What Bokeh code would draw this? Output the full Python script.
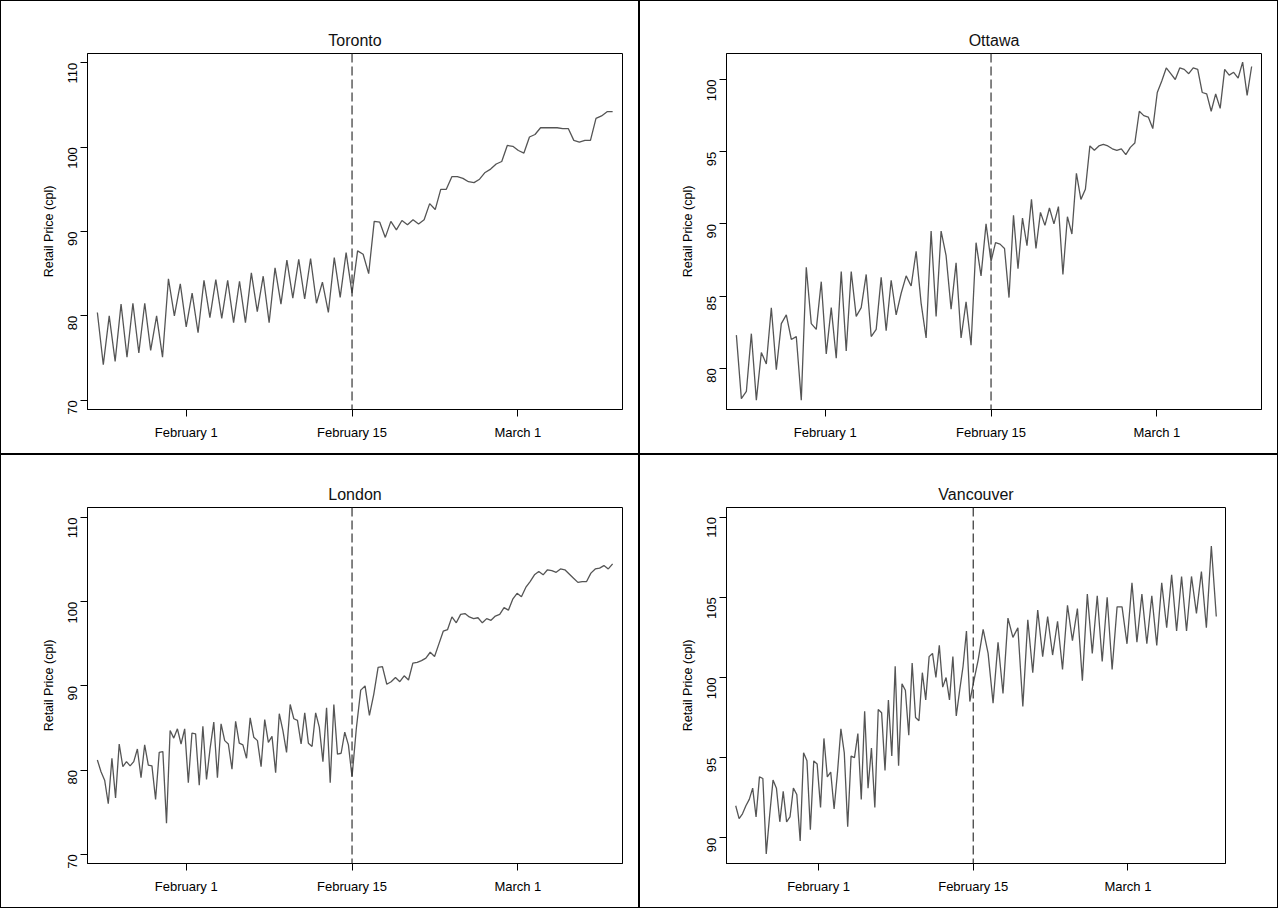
import math
import pandas as pd
from bokeh.plotting import figure
from bokeh.layouts import column, row
from bokeh.models import FixedTicker, Span
from bokeh.embed import file_html
from bokeh.resources import INLINE

# ---- data (cents per litre) ----
cities = ["Toronto", "Ottawa", "London", "Vancouver"]

toronto_pre = [80.4, 74.2, 80, 74.6, 81.4, 75.1, 81.5, 75.6, 81.5, 75.9, 80, 75.1, 84.4, 80,
               83.8, 78.7, 82.7, 78, 84.2, 79.8, 84.3, 79.7, 84.2, 79.2, 84.1, 79.2, 85.1, 80.5,
               84.7, 79.2, 85.7, 81.4, 86.6, 82.1, 86.7, 82, 86.8, 81.5, 84, 80.4, 86.9, 82.2,
               87.5, 82.7]
toronto_post = [87.7, 87.3, 85, 91.2, 91.1, 89.3, 91.2, 90.2, 91.3, 90.8, 91.4, 90.9, 91.4, 93.3,
                92.6, 95, 95, 96.5, 96.5, 96.3, 95.9, 95.8, 96.2, 97, 97.4, 98, 98.3, 100.2,
                100.1, 99.6, 99.3, 101.2, 101.5, 102.3, 102.3, 102.3, 102.3, 102.2, 102.2, 100.8,
                100.6, 100.8, 100.8, 103.4, 103.7, 104.2, 104.2]

ottawa_pre = [82.3, 77.9, 78.4, 82.4, 77.8, 81.1, 80.3, 84.2, 79.9, 83.1, 83.7, 82.0, 82.2, 77.8,
              87, 83.1, 82.7, 86, 81, 84.2, 80.7, 86.7, 81.2, 86.7, 83.6, 84.2, 86.5, 82.2, 82.7,
              86.3, 82.6, 86.1, 83.7, 85.2, 86.4, 85.7, 88.1, 84.5, 82.1, 89.5, 83.6, 89.5, 87.8,
              84.1, 87.3, 82.1, 84.6, 81.6, 88.7, 86.4, 90, 87.4]
ottawa_post = [88.7, 88.6, 88.3, 84.9, 90.6, 86.9, 90.4, 88.5, 91.7, 88.3, 90.8, 89.9, 91.1, 90,
               91.2, 86.5, 90.5, 89.3, 93.5, 91.7, 92.4, 95.4, 95.1, 95.4, 95.5, 95.4, 95.2, 95.1,
               95.2, 94.8, 95.3, 95.6, 97.8, 97.5, 97.4, 96.6, 99.1, 99.9, 100.8, 100.4, 100.0,
               100.8, 100.7, 100.4, 100.8, 100.7, 99.1, 99, 97.8, 99, 98, 100.7, 100.3, 100.5,
               100.1, 101.2, 98.9, 100.9]

london_pre = [81.2, 79.8, 78.8, 76, 81.4, 76.7, 83.1, 80.4, 81, 80.5, 81, 82.5, 79.1, 83, 80.6,
              80.5, 76.5, 82.1, 82.2, 73.7, 84.7, 83.8, 84.9, 83.1, 84.9, 78.5, 84.4, 84.3, 78.2,
              85.2, 78.9, 82.6, 85.7, 79.1, 85.5, 83.5, 83.1, 80.1, 85.8, 83.2, 83, 81.4, 86.2,
              83.9, 83.5, 80.4, 86, 83.3, 84, 79.7, 86.7, 84.7, 82.1, 87.8, 86.1, 85.9, 83.1, 86.8,
              83.2, 82.8, 86.8, 85.1, 81, 87.4, 78.5, 87.8, 81.9, 82, 84.5, 83, 79.2]
london_post = [85, 89.5, 90, 86.5, 89, 92.2, 92.3, 90.2, 90.5, 91, 90.5, 91.2, 90.7, 92.7, 92.8,
               93, 93.3, 94, 93.5, 95, 96.5, 96.7, 98.2, 97.5, 98.5, 98.6, 98.2, 98, 98.1, 97.5,
               98, 97.8, 98.3, 98.5, 99.3, 99, 100.3, 101, 100.6, 101.7, 102.4, 103.2, 103.6,
               103.2, 103.8, 103.7, 103.5, 103.9, 103.8, 103.3, 102.8, 102.3, 102.4, 102.4, 103.4,
               103.9, 104, 104.3, 103.9, 104.5]

vancouver_pre = [92, 91.2, 91.5, 92, 92.4, 93.1, 91.3, 93.8, 93.7, 89, 91.4, 93.6, 93.1, 91, 92.9,
                 91, 91.3, 93.1, 92.7, 89.8, 95.3, 94.8, 90.5, 94.8, 94.6, 91.9, 96.2, 93.8, 94.1,
                 91.8, 94.1, 96.8, 95.3, 90.7, 95.1, 95, 96.5, 92.4, 97.9, 93.1, 95.6, 91.9, 98,
                 97.8, 94.2, 98.6, 95.1, 100.7, 94.5, 99.6, 99.2, 96.4, 100.9, 97.5, 97.3, 100.3,
                 98.6, 101.3, 101.5, 100, 102, 99.4, 100, 98.6, 101.3, 97.6, 99.2, 100.7, 102.9,
                 98.5, 99.6]
vancouver_post = [101.1, 103, 101.5, 98.4, 102.2, 99, 103.7, 102.5, 103.1, 98.2, 103.6, 100.3,
                  104.2, 101.3, 103.8, 101.4, 103.5, 100.5, 104.5, 102.3, 104.3, 99.8, 105.2,
                  101.5, 105.1, 101.0, 105, 100.5, 104.4, 104.4, 102.1, 105.9, 102.2, 105.2, 102.1,
                  105.1, 102, 105.9, 103.1, 106.4, 102.9, 106.3, 102.9, 106.3, 104, 106.6, 103.1,
                  108.2, 103.8]

y_ticks = {
    "Toronto": [70, 80, 90, 100, 110],
    "Ottawa": [80, 85, 90, 95, 100],
    "London": [70, 80, 90, 100, 110],
    "Vancouver": [90, 95, 100, 105, 110],
}
y_ranges = {
    "Toronto": (68.9, 111.1),
    "Ottawa": (77.15, 101.8),
    "London": (68.9, 111.2),
    "Vancouver": (88.4, 110.6),
}
series = {
    "Toronto": (toronto_pre, toronto_post),
    "Ottawa": (ottawa_pre, ottawa_post),
    "London": (london_pre, london_post),
    "Vancouver": (vancouver_pre, vancouver_post),
}

x_tick_dates = ["2009-02-01", "2009-02-15", "2009-03-01"]
x_tick_labels = ["February 1", "February 15", "March 1"]
data_start = pd.Timestamp("2009-01-24 12:00")
break_date = pd.Timestamp("2009-02-15")
data_end = pd.Timestamp("2009-03-09")
x_lo = pd.Timestamp("2009-01-23 16:00")
x_hi = pd.Timestamp("2009-03-09 20:00")


def ms(ts):
    return ts.value / 1e6


def times(a, b, n, include_start):
    # evenly spaced observation times across a segment
    pts = pd.date_range(a, b, periods=n + (0 if include_start else 1))
    return list(pts if include_start else pts[1:])


FONT = "Liberation Sans"
figs = []
for city in cities:
    pre, post = series[city]
    xs = times(data_start, break_date, len(pre), True) + times(break_date, data_end, len(post), False)
    ys = pre + post

    # Vancouver's plot region is a bit narrower in the original
    right = 54 if city == "Vancouver" else 18
    p = figure(width=639, height=454, x_axis_type="datetime", output_backend="svg",
               toolbar_location=None, x_range=(ms(x_lo), ms(x_hi)), y_range=y_ranges[city],
               min_border_left=86, min_border_right=right, min_border_top=52, min_border_bottom=46,
               styles={"border": "1px solid black"})
    p.title.text = city
    p.title.align = "center"
    p.title.text_font = FONT
    p.title.text_font_style = "normal"
    p.title.text_font_size = "16px"
    p.title.text_color = "#111111"
    p.title.offset = -4

    p.line(xs, ys, line_color="#555555", line_width=1.3)
    p.add_layout(Span(location=ms(break_date), dimension="height", line_color="#333333",
                      line_dash="9 4", line_width=1.2))

    p.xgrid.visible = False
    p.ygrid.visible = False
    p.outline_line_color = "black"
    p.outline_line_alpha = 1

    tick_ms = [ms(pd.Timestamp(d)) for d in x_tick_dates]
    p.xaxis.ticker = FixedTicker(ticks=tick_ms)
    p.xaxis.major_label_overrides = {t: l for t, l in zip(tick_ms, x_tick_labels)}
    p.yaxis.ticker = FixedTicker(ticks=y_ticks[city])
    p.yaxis.major_label_orientation = math.pi / 2
    p.yaxis.axis_label = "Retail Price (cpl)"
    for ax in (p.xaxis, p.yaxis):
        ax.major_label_text_font = FONT
        ax.major_label_text_font_size = "13px"
        ax.major_label_text_color = "black"
        ax.axis_label_text_font = FONT
        ax.axis_label_text_font_size = "12.5px"
        ax.axis_label_text_font_style = "normal"
        ax.axis_label_text_color = "black"
        ax.minor_tick_line_color = None
        ax.major_tick_in = 0
        ax.major_tick_out = 7
        ax.major_label_standoff = 8
        ax.axis_line_color = "black"
        ax.major_tick_line_color = "black"
    figs.append(p)

layout = column(row(figs[0], figs[1]), row(figs[2], figs[3]))
open("out.html", "w").write(file_html(layout, INLINE))
